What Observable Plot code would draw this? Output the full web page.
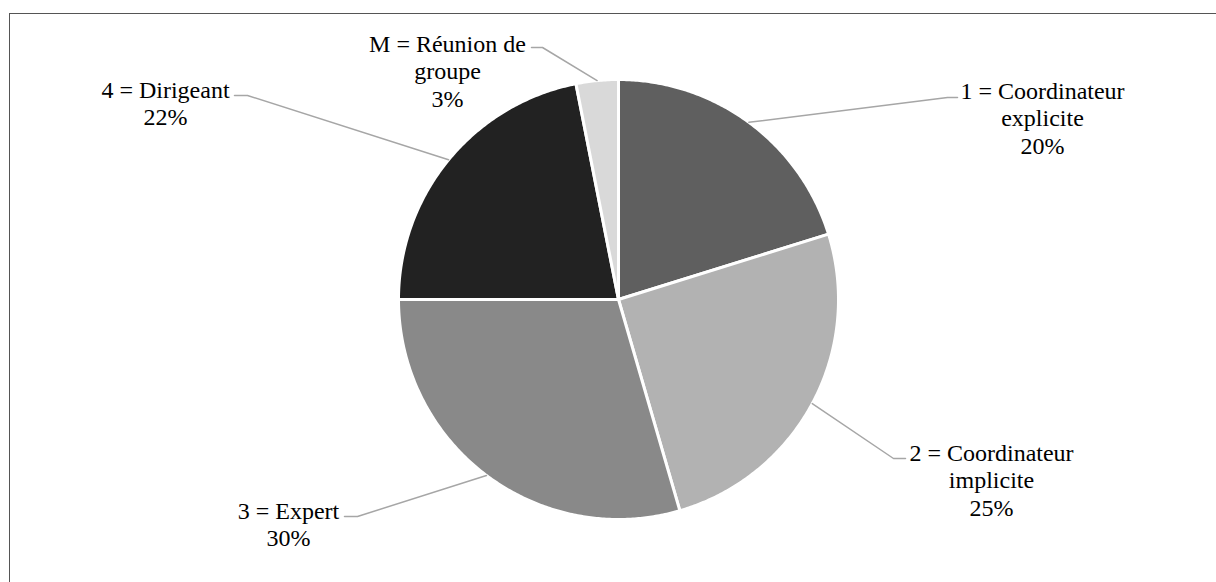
<!DOCTYPE html>
<html><head><meta charset="utf-8">
<script src="https://cdn.jsdelivr.net/npm/d3@7"></script>
<script src="https://cdn.jsdelivr.net/npm/@observablehq/plot@0.6"></script>
<style>
html,body{margin:0;padding:0;background:#fff;}
#wrap{position:relative;width:1216px;height:582px;overflow:hidden;}
#frame{position:absolute;left:9px;top:13px;right:-5px;bottom:-5px;border-top:1.5px solid #555;border-left:1.5px solid #555;z-index:1;pointer-events:none;}
#chart{position:absolute;left:0;top:0;}
</style></head><body>
<div id="wrap"><div id="frame"></div><div id="chart"></div></div>
<script>
// ---- data ----
const categories = ["1 = Coordinateur\nexplicite", "2 = Coordinateur\nimplicite", "3 = Expert", "4 = Dirigeant", "M = Réunion de\ngroupe"];
const shares = [20.2, 25.3, 29.5, 21.9, 3.1];
const colors = ["#5f5f5f", "#b2b2b2", "#898989", "#222222", "#d9d9d9"];

// ---- layout (pixels) ----
const W = 1216, H = 582, cx = 618, cy = 299, R = 220;
const labelPos = [[1042, 117], [991, 479], [288, 523], [165, 102], [447, 70]];
const elbows = [[947, 97, 957], [893, 458, 905], [357, 516, 344], [247, 95, 234], [542, 47, 531]];
const FONT = "'Liberation Serif', Tinos, 'Times New Roman', 'DejaVu Serif', serif";

const total = d3.sum(shares);
let cum = 0;
const slicePts = [], leaders = [], labels = [];
shares.forEach((v, i) => {
  const cat = categories[i];
  const a0 = cum / total * 2 * Math.PI; cum += v; const a1 = cum / total * 2 * Math.PI;
  slicePts.push({cat, x: cx, y: cy});
  const n = Math.max(2, Math.ceil((a1 - a0) / (Math.PI / 360)));
  for (let k = 0; k <= n; k++) {
    const a = a0 + (a1 - a0) * k / n;
    slicePts.push({cat, x: cx + R * Math.sin(a), y: cy - R * Math.cos(a)});
  }
  const am = (a0 + a1) / 2;
  const [ex, ey, endx] = elbows[i];
  leaders.push({cat, x: cx + R * Math.sin(am), y: cy - R * Math.cos(am)}, {cat, x: ex, y: ey}, {cat, x: endx, y: ey});
  labels.push({text: cat + "\n" + Math.round(v) + "%", x: labelPos[i][0], y: labelPos[i][1]});
});

const chart = Plot.plot({
  width: W, height: H, margin: 0,
  style: {background: "transparent", fontFamily: FONT},
  x: {domain: [0, W], range: [0, W], axis: null},
  y: {domain: [0, H], range: [0, H], axis: null},
  color: {domain: categories, range: colors},
  marks: [
    Plot.line(slicePts, {x: "x", y: "y", z: "cat", fill: "cat", stroke: "white", strokeWidth: 3, strokeLinejoin: "round", curve: "linear-closed"}),
    Plot.line(leaders, {x: "x", y: "y", z: "cat", stroke: "#a6a6a6", strokeWidth: 1.5}),
    Plot.text(labels, {x: "x", y: "y", text: "text", fontSize: 24, fontFamily: FONT, fill: "#000", lineHeight: 1.15, lineAnchor: "middle", textAnchor: "middle"})
  ]
});
chart.querySelectorAll("text").forEach(t => t.style.fontFamily = FONT);
document.getElementById("chart").appendChild(chart);
</script>
</body></html>
